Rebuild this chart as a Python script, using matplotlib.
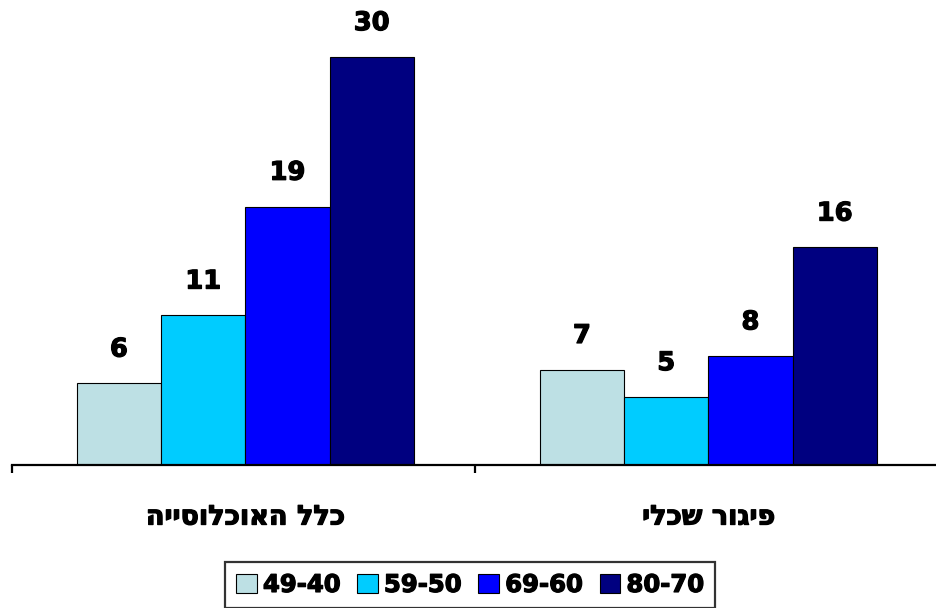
import numpy as np
import matplotlib.pyplot as plt
import matplotlib.patheffects as pe
from matplotlib.patches import Patch

plt.rcParams["font.family"] = ["DejaVu Sans"]

# Hebrew is stored in logical order and reversed for drawing (matplotlib has no bidi)
groups = ["כלל האוכלוסייה", "פיגור שכלי"]
series = ["49-40", "59-50", "69-60", "80-70"]
values = [
    [6, 7],
    [11, 5],
    [19, 8],
    [30, 16],
]
colors = ["#BDE0E4", "#00CCFF", "#0000FF", "#000080"]

heavy = [pe.withStroke(linewidth=0.9, foreground="black")]


def rtl(s):
    return s[::-1]


fig = plt.figure(figsize=(9.36, 6.08), dpi=100)
ax = fig.add_axes([12 / 936, 143 / 608, 926 / 936, 465 / 608])

x = np.arange(len(groups))
w = 0.182
for i, (name, vals) in enumerate(zip(series, values)):
    pos = x + (i - 1.5) * w + 0.004
    bars = ax.bar(pos, vals, width=w, color=colors[i], edgecolor="black", linewidth=0.8)
    for b, v in zip(bars, vals):
        ax.annotate(str(v), (b.get_x() + b.get_width() / 2, v),
                    xytext=(0, 15), textcoords="offset points",
                    ha="center", va="bottom", fontsize=18.5, fontweight="bold",
                    path_effects=heavy)

ax.set_xlim(-0.5, 1.5)
ax.set_ylim(0, 465 / 13.6)

for s in ["top", "right", "left"]:
    ax.spines[s].set_visible(False)
ax.spines["bottom"].set_linewidth(1.6)
ax.set_yticks([])
ax.set_xticks([-0.5, 0.5, 1.5])
ax.set_xticklabels([])
ax.tick_params(axis="x", direction="out", length=6, width=1.6)

for xi, g in zip(x, groups):
    ax.text(xi + 0.005, -0.113, rtl(g), transform=ax.get_xaxis_transform(),
            ha="center", va="center", fontsize=19.5, fontweight="bold",
            path_effects=heavy)

handles = [Patch(facecolor=c, edgecolor="black", linewidth=0.8) for c in colors]
leg = fig.legend(handles, series, loc="upper center", bbox_to_anchor=(470 / 936, 1 - 562 / 608),
                 ncol=4, frameon=True, fancybox=False, handlelength=0.85, handleheight=0.85,
                 handletextpad=0.25, columnspacing=0.7, borderpad=0.45, borderaxespad=0,
                 prop={"size": 17.5, "weight": "bold"})
leg.get_frame().set_edgecolor("black")
leg.get_frame().set_linewidth(1.6)
for t in leg.get_texts():
    t.set_path_effects(heavy)

fig.savefig("out.png", dpi=100)
